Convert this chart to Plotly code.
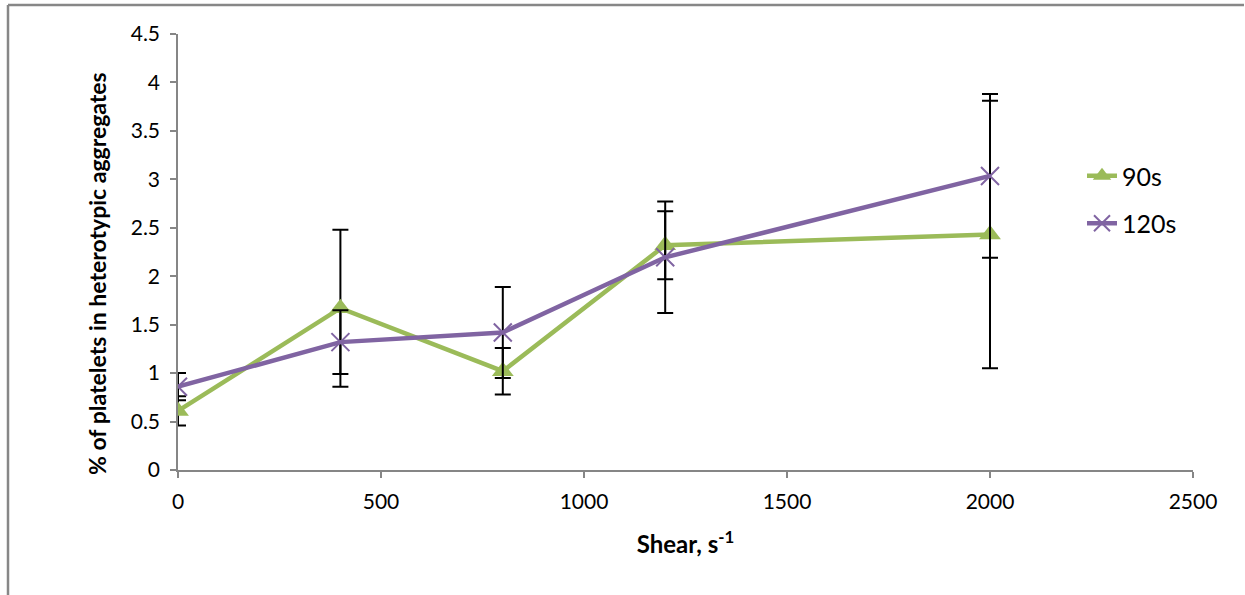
import plotly.graph_objects as go

shear = [0, 400, 800, 1200, 2000]
pct_90s = [0.61, 1.67, 1.02, 2.32, 2.43]
err_90s = [0.15, 0.81, 0.24, 0.35, 1.38]
pct_120s = [0.86, 1.32, 1.42, 2.195, 3.035]
err_120s = [0.14, 0.33, 0.47, 0.575, 0.845]

x_ticks = [0, 500, 1000, 1500, 2000, 2500]
y_ticks = [0, 0.5, 1, 1.5, 2, 2.5, 3, 3.5, 4, 4.5]
y_labels = ["0", "0.5", "1", "1.5", "2", "2.5", "3", "3.5", "4", "4.5"]

GREEN = "#9BBB59"
PURPLE = "#8064A2"
FONT = "Lato"

fig = go.Figure()
fig.add_trace(go.Scatter(
    x=shear, y=pct_90s, name="90s", mode="lines+markers",
    line=dict(color=GREEN, width=4.5),
    marker=dict(symbol="triangle-up", size=19, color=GREEN),
    error_y=dict(type="data", array=err_90s, color="black", thickness=2, width=8),
    legendgroup="a",
))
fig.add_trace(go.Scatter(
    x=shear, y=pct_120s, name="120s", mode="lines+markers",
    line=dict(color=PURPLE, width=4.5),
    marker=dict(symbol="x-thin-open", size=18, color=PURPLE, line=dict(color=PURPLE, width=2)),
    error_y=dict(type="data", array=err_120s, color="black", thickness=2, width=8),
    legendgroup="b",
))

L, R, T, B = 178, 52, 34, 125
W, H = 1245, 595
pw, ph = W - L - R, H - T - B

def px_x(p):
    return (p - L) / pw

def px_y(p):
    return (H - B - p) / ph

# outer frame (partial, top and left)
fig.add_shape(type="line", xref="paper", yref="paper", x0=px_x(8), x1=px_x(1244), y0=px_y(5), y1=px_y(5),
              line=dict(color="#878787", width=2.5))
fig.add_shape(type="line", xref="paper", yref="paper", x0=px_x(8), x1=px_x(8), y0=px_y(5), y1=px_y(595),
              line=dict(color="#878787", width=2.5))

fig.add_annotation(text="<b>% of platelets in heterotypic aggregates</b>", textangle=-90,
                   xref="paper", yref="paper", x=px_x(97), y=px_y(274),
                   xanchor="center", yanchor="middle", showarrow=False,
                   font=dict(family=FONT, size=23, color="black"))

tickfont = dict(family=FONT, size=21, color="black")

fig.update_layout(
    width=W, height=H,
    margin=dict(l=L, r=R, t=T, b=B),
    paper_bgcolor="white", plot_bgcolor="white",
    font=dict(family=FONT, size=20, color="black"),
    showlegend=True,
    legend=dict(x=px_x(1082), y=px_y(153), xanchor="left", yanchor="top",
                font=dict(family=FONT, size=25), tracegroupgap=12, bgcolor="rgba(0,0,0,0)"),
    xaxis=dict(
        range=[0, 2500], tickvals=x_ticks, ticktext=[str(v) for v in x_ticks],
        showgrid=False, zeroline=False, showline=True, linecolor="#868686", linewidth=1.5,
        ticks="outside", ticklen=6, tickcolor="#868686", tickwidth=1.5,
        ticklabelstandoff=6, tickfont=tickfont,
        title=dict(text="<b>Shear, s<sup>-1</sup></b>", font=dict(family=FONT, size=24), standoff=24),
    ),
    yaxis=dict(
        range=[0, 4.5], tickvals=y_ticks, ticktext=y_labels,
        showgrid=False, zeroline=False, showline=True, linecolor="#868686", linewidth=1.5,
        ticks="outside", ticklen=6, tickcolor="#868686", tickwidth=1.5,
        ticklabelstandoff=6, tickfont=tickfont,
    ),
)

fig.write_html("out.html")
